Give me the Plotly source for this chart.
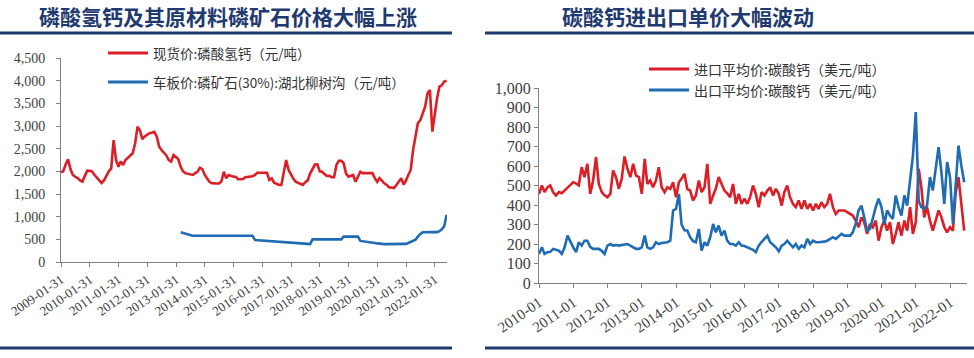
import pandas as pd
import plotly.graph_objects as go

# ---------------- data: left panel (monthly, 2009-01 .. 2022-06) ----------------
dcp_price = [
    1980, 2000, 2150, 2265, 2050, 1920, 1880, 1850, 1800, 1770,
    1900, 2015, 2010, 2000, 1925, 1870, 1800, 1740, 1800, 1920,
    2000, 2065, 2690, 2250, 2100, 2220, 2140, 2250, 2300, 2360,
    2400, 2620, 2985, 2900, 2710, 2770, 2800, 2840, 2850, 2870,
    2770, 2550, 2470, 2420, 2350, 2250, 2215, 2360, 2300, 2270,
    2100, 2000, 1960, 1950, 1930, 1920, 1960, 1990, 2080, 2050,
    1920, 1850, 1770, 1740, 1730, 1730, 1730, 1780, 1990, 1845,
    1920, 1900, 1880, 1880, 1825, 1825, 1830, 1870, 1880, 1890,
    1890, 1920, 1970, 1970, 1970, 1970, 1970, 1810, 1845, 1750,
    1720, 1700, 1700, 2000, 2250, 2030, 1920, 1840, 1770, 1750,
    1730, 1700, 1760, 1800, 1950, 2045, 2150, 2155, 2000, 1990,
    1950, 1900, 1900, 1870, 1870, 2140, 2235, 2235, 2180, 1950,
    1880, 1900, 1920, 1770, 1880, 1990, 1960, 1960, 1960, 1960,
    1960, 1850, 1770, 1850, 1780, 1735, 1700, 1650, 1640, 1630,
    1700, 1770, 1850, 1710, 1800, 1920, 2030, 2470, 2765, 3060,
    3130, 3300, 3425, 3720, 3795, 2875, 3280, 3600, 3870, 3900,
    3980, 4000,
]
dcp_start = "2009-01-31"

rock_price = [
    655, 640, 625, 605, 590,
    580, 580, 580, 580, 580, 580, 580, 580, 580, 580, 580, 580, 580,
    580, 580, 580, 580, 580, 580, 580, 580, 580, 580, 580, 580, 580,
    485, 482, 478, 475, 472, 468, 465, 462, 458, 455, 452, 448, 445,
    442, 438, 435, 430, 425, 420, 415, 410, 405, 400, 395,
    500, 500, 500, 500, 500, 500, 500, 500, 500, 500, 500, 500, 500,
    560, 560, 560, 560, 560, 560, 560,
    465, 460, 450, 445, 440, 435, 420, 410, 400, 395,
    395, 395, 395, 395, 395, 395, 395, 395, 395,
    400, 420, 445, 470, 490, 560, 620, 655,
    660, 660, 660, 660, 660, 660,
    680, 720, 790, 1040,
]
rock_start = "2013-03-31"

left_ticks = ["2009-01-31", "2010-01-31", "2011-01-31", "2012-01-31", "2013-01-31",
              "2014-01-31", "2015-01-31", "2016-01-31", "2017-01-31", "2018-01-31",
              "2019-01-31", "2020-01-31", "2021-01-31", "2022-01-31"]
left_yticks = [0, 500, 1000, 1500, 2000, 2500, 3000, 3500, 4000, 4500]

# ---------------- data: right panel (monthly, 2010-01 .. 2022-06) ----------------
import_price = [
    457, 500, 466, 491, 500, 465, 449, 466, 460, 474,
    491, 500, 517, 510, 500, 594, 543, 611, 457, 526,
    646, 508, 466, 450, 440, 457, 577, 543, 483, 534,
    649, 586, 543, 611, 551, 543, 457, 637, 508, 526,
    491, 526, 594, 491, 466, 491, 483, 517, 440, 517,
    534, 560, 483, 474, 423, 449, 526, 466, 491, 611,
    406, 449, 483, 543, 508, 474, 460, 440, 508, 406,
    457, 406, 432, 406, 440, 500, 457, 389, 466, 449,
    474, 491, 449, 483, 457, 397, 466, 500, 440, 406,
    389, 423, 380, 423, 380, 406, 372, 406, 380, 414,
    389, 406, 457, 389, 354, 372, 372, 372, 363, 355,
    346, 320, 286, 337, 312, 252, 303, 286, 320, 217,
    286, 320, 269, 312, 200, 252, 312, 243, 320, 269,
    389, 252, 312, 586, 491, 337, 389, 320, 269, 320,
    372, 337, 286, 260, 286, 269, 457, 543, 389, 269,
]
export_price = [
    149, 183, 149, 158, 160, 175, 170, 166, 149, 183,
    243, 209, 183, 158, 209, 192, 217, 217, 185, 175,
    175, 175, 165, 149, 192, 200, 192, 195, 192, 195,
    200, 200, 192, 185, 175, 175, 183, 243, 183, 175,
    183, 209, 200, 205, 209, 209, 217, 372, 380, 457,
    300, 270, 269, 235, 215, 209, 277, 166, 209, 192,
    235, 303, 260, 295, 243, 269, 217, 200, 200, 192,
    209, 192, 190, 183, 175, 170, 158, 192, 210, 226,
    243, 209, 195, 183, 163, 192, 200, 217, 200, 183,
    200, 175, 192, 183, 226, 200, 217, 209, 209, 209,
    212, 217, 225, 235, 226, 240, 252, 243, 243, 243,
    260, 303, 372, 397, 337, 269, 277, 337, 389, 432,
    389, 303, 372, 346, 329, 449, 389, 346, 449, 397,
    526, 650, 877, 420, 389, 380, 397, 543, 474, 594,
    697, 568, 406, 620, 543, 303, 491, 705, 603, 517,
]
trade_start = "2010-01-01"

right_ticks = ["2010-01", "2011-01", "2012-01", "2013-01", "2014-01", "2015-01", "2016-01",
               "2017-01", "2018-01", "2019-01", "2020-01", "2021-01", "2022-01"]
right_yticks = [0, 100, 200, 300, 400, 500, 600, 700, 800, 900, 1000]

# ---------------- text ----------------
title_left = "磷酸氢钙及其原材料磷矿石价格大幅上涨"
title_right = "碳酸钙进出口单价大幅波动"
name_dcp = "现货价:磷酸氢钙（元/吨）"
name_rock = "车板价:磷矿石(30%):湖北柳树沟（元/吨）"
name_import = "进口平均价:碳酸钙（美元/吨）"
name_export = "出口平均价:碳酸钙（美元/吨）"

# ---------------- style ----------------
W, H = 974, 358
RED = "#dc1f26"
BLUE = "#1f6cb4"
NAVY = "#1f3a6e"
TICKC = "#404040"
AXC = "#808080"
SERIF = "Liberation Serif, Times New Roman, serif"
CJK = "Noto Sans CJK SC, sans-serif"


def px(x):
    return x / W


def py(y):
    return 1 - y / H


dcp_dates = pd.date_range(dcp_start, periods=len(dcp_price), freq="ME")
rock_dates = pd.date_range(rock_start, periods=len(rock_price), freq="ME")
trade_dates = pd.date_range(trade_start, periods=len(import_price), freq="MS")

fig = go.Figure()
fig.add_trace(go.Scatter(x=dcp_dates, y=dcp_price, mode="lines", name=name_dcp,
                         line=dict(color=RED, width=2.6), xaxis="x", yaxis="y"))
fig.add_trace(go.Scatter(x=rock_dates, y=rock_price, mode="lines", name=name_rock,
                         line=dict(color=BLUE, width=2.6), xaxis="x", yaxis="y"))
fig.add_trace(go.Scatter(x=trade_dates, y=import_price, mode="lines", name=name_import,
                         line=dict(color=RED, width=2.6), xaxis="x2", yaxis="y2"))
fig.add_trace(go.Scatter(x=trade_dates, y=export_price, mode="lines", name=name_export,
                         line=dict(color=BLUE, width=2.6), xaxis="x2", yaxis="y2"))

axis_common = dict(showgrid=False, zeroline=False, showline=True, linecolor=AXC, linewidth=1,
                   ticks="outside", ticklen=4, tickcolor=AXC, automargin=False)

fig.update_layout(
    width=W, height=H,
    margin=dict(l=0, r=0, t=0, b=0),
    paper_bgcolor="white", plot_bgcolor="white",
    showlegend=False,
    xaxis=dict(domain=[px(61), px(447)], range=["2009-01-31", "2022-07-05"],
               tickvals=left_ticks, ticktext=left_ticks, tickangle=-35,
               tickfont=dict(family=SERIF, size=13, color=TICKC), anchor="y", **axis_common),
    yaxis=dict(domain=[py(262), py(58)], range=[0, 4500], tickvals=left_yticks,
               tickformat=",", tickfont=dict(family=SERIF, size=14, color=TICKC),
               ticklabelstandoff=8, anchor="x", **axis_common),
    xaxis2=dict(domain=[px(539), px(967)], range=["2010-01-01", "2022-07-01"],
                tickvals=[t + "-01" for t in right_ticks], ticktext=right_ticks, tickangle=-35,
                tickfont=dict(family=SERIF, size=15, color=TICKC), anchor="y2", **axis_common),
    yaxis2=dict(domain=[py(283), py(88)], range=[0, 1000], tickvals=right_yticks,
                tickformat=",", tickfont=dict(family=SERIF, size=16, color=TICKC),
                anchor="x2", **axis_common),
)

# header / footer rules
shapes = []
for x0, x1 in [(0, 452), (485, 974)]:
    for yc in (33, 348):
        shapes.append(dict(type="rect", xref="paper", yref="paper",
                           x0=px(x0), x1=px(x1), y0=py(yc + 1.5), y1=py(yc - 1.5),
                           fillcolor=NAVY, line=dict(width=0)))

# manual legends
legend_items = [
    (108, 148, 53, RED, name_dcp, 13.5),
    (108, 148, 82, BLUE, name_rock, 13.5),
    (649, 689, 69, RED, name_import, 14),
    (649, 689, 90, BLUE, name_export, 14),
]
annotations = []
for x0, x1, yc, col, txt, fs in legend_items:
    shapes.append(dict(type="line", xref="paper", yref="paper",
                       x0=px(x0), x1=px(x1), y0=py(yc), y1=py(yc),
                       line=dict(color=col, width=3)))
    annotations.append(dict(text=txt, xref="paper", yref="paper", x=px(x1 + 3), y=py(yc),
                            xanchor="left", yanchor="middle", showarrow=False,
                            font=dict(family=CJK, size=fs, color="#333333")))

annotations.append(dict(text="<b>" + title_left + "</b>", xref="paper", yref="paper",
                        x=px(228), y=py(16), xanchor="center", yanchor="middle", showarrow=False,
                        font=dict(family=CJK, size=21, color=NAVY)))
annotations.append(dict(text="<b>" + title_right + "</b>", xref="paper", yref="paper",
                        x=px(688), y=py(16), xanchor="center", yanchor="middle", showarrow=False,
                        font=dict(family=CJK, size=21, color=NAVY)))

fig.update_layout(shapes=shapes, annotations=annotations)
fig.write_html("out.html", config={"displayModeBar": False},
               post_script="document.body.style.margin='0px';document.body.style.overflow='hidden';")
